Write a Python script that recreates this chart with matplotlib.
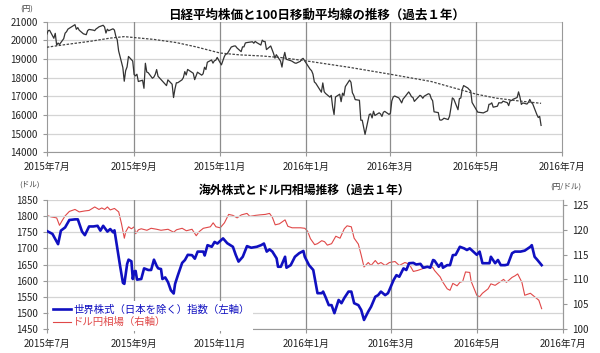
import matplotlib.pyplot as plt
import pandas as pd

plt.rcParams['font.family'] = ['Noto Sans CJK JP', 'DejaVu Sans']

# 日経平均株価 (円)
nk_dates = ['2015-07-01', '2015-07-02', '2015-07-03', '2015-07-06', '2015-07-07', '2015-07-08', '2015-07-09',
            '2015-07-10', '2015-07-13', '2015-07-14', '2015-07-15', '2015-07-16', '2015-07-17', '2015-07-21',
            '2015-07-22', '2015-07-23', '2015-07-24', '2015-07-27', '2015-07-28', '2015-07-29', '2015-07-30',
            '2015-07-31', '2015-08-03', '2015-08-04', '2015-08-05', '2015-08-06', '2015-08-07', '2015-08-10',
            '2015-08-11', '2015-08-12', '2015-08-13', '2015-08-14', '2015-08-17', '2015-08-18', '2015-08-19',
            '2015-08-20', '2015-08-21', '2015-08-24', '2015-08-25', '2015-08-26', '2015-08-27', '2015-08-28',
            '2015-08-31', '2015-09-01', '2015-09-02', '2015-09-03', '2015-09-04', '2015-09-07', '2015-09-08',
            '2015-09-09', '2015-09-10', '2015-09-11', '2015-09-14', '2015-09-15', '2015-09-16', '2015-09-17',
            '2015-09-18', '2015-09-24', '2015-09-25', '2015-09-28', '2015-09-29', '2015-09-30', '2015-10-01',
            '2015-10-02', '2015-10-05', '2015-10-06', '2015-10-07', '2015-10-08', '2015-10-09', '2015-10-13',
            '2015-10-14', '2015-10-15', '2015-10-16', '2015-10-19', '2015-10-20', '2015-10-21', '2015-10-22',
            '2015-10-23', '2015-10-26', '2015-10-27', '2015-10-28', '2015-10-29', '2015-10-30', '2015-11-02',
            '2015-11-04', '2015-11-05', '2015-11-06', '2015-11-09', '2015-11-10', '2015-11-11', '2015-11-12',
            '2015-11-13', '2015-11-16', '2015-11-17', '2015-11-18', '2015-11-19', '2015-11-20', '2015-11-24',
            '2015-11-25', '2015-11-26', '2015-11-27', '2015-11-30', '2015-12-01', '2015-12-02', '2015-12-03',
            '2015-12-04', '2015-12-07', '2015-12-08', '2015-12-09', '2015-12-10', '2015-12-11', '2015-12-14',
            '2015-12-15', '2015-12-16', '2015-12-17', '2015-12-18', '2015-12-21', '2015-12-22', '2015-12-24',
            '2015-12-25', '2015-12-28', '2015-12-29', '2015-12-30', '2016-01-04', '2016-01-05', '2016-01-06',
            '2016-01-07', '2016-01-08', '2016-01-12', '2016-01-13', '2016-01-14', '2016-01-15', '2016-01-18',
            '2016-01-19', '2016-01-20', '2016-01-21', '2016-01-22', '2016-01-25', '2016-01-26', '2016-01-27',
            '2016-01-28', '2016-01-29', '2016-02-01', '2016-02-02', '2016-02-03', '2016-02-04', '2016-02-05',
            '2016-02-08', '2016-02-09', '2016-02-10', '2016-02-12', '2016-02-15', '2016-02-16', '2016-02-17',
            '2016-02-18', '2016-02-19', '2016-02-22', '2016-02-23', '2016-02-24', '2016-02-25', '2016-02-26',
            '2016-02-29', '2016-03-01', '2016-03-02', '2016-03-03', '2016-03-04', '2016-03-07', '2016-03-08',
            '2016-03-09', '2016-03-10', '2016-03-11', '2016-03-14', '2016-03-15', '2016-03-16', '2016-03-17',
            '2016-03-18', '2016-03-22', '2016-03-23', '2016-03-24', '2016-03-25', '2016-03-28', '2016-03-29',
            '2016-03-30', '2016-03-31', '2016-04-01', '2016-04-04', '2016-04-05', '2016-04-06', '2016-04-07',
            '2016-04-08', '2016-04-11', '2016-04-12', '2016-04-13', '2016-04-14', '2016-04-15', '2016-04-18',
            '2016-04-19', '2016-04-20', '2016-04-21', '2016-04-22', '2016-04-25', '2016-04-26', '2016-04-27',
            '2016-04-28', '2016-05-02', '2016-05-06', '2016-05-09', '2016-05-10', '2016-05-11', '2016-05-12',
            '2016-05-13', '2016-05-16', '2016-05-17', '2016-05-18', '2016-05-19', '2016-05-20', '2016-05-23',
            '2016-05-24', '2016-05-25', '2016-05-26', '2016-05-27', '2016-05-30', '2016-05-31', '2016-06-01',
            '2016-06-02', '2016-06-03', '2016-06-06', '2016-06-07', '2016-06-08', '2016-06-09', '2016-06-10',
            '2016-06-13', '2016-06-14', '2016-06-15', '2016-06-16']
nk_vals = [20329, 20522, 20539, 20112, 20376, 19737, 19855,
           19780, 20089, 20385, 20463, 20600, 20650, 20841,
           20593, 20683, 20545, 20350, 20328, 20303, 20522,
           20585, 20548, 20520, 20614, 20664, 20724, 20808,
           20720, 20392, 20595, 20519, 20620, 20554, 20222,
           20033, 19435, 18540, 17806, 18376, 18574, 19136,
           18890, 18165, 18095, 18182, 17792, 17860, 17427,
           18770, 18299, 18264, 17965, 18026, 18171, 18432,
           18070, 17571, 17880, 17645, 16931, 17388, 17722,
           17725, 17880, 18005, 18322, 18141, 18438, 18234,
           17891, 18097, 18291, 18131, 18207, 18554, 18435,
           18825, 18947, 18777, 18903, 18935, 19083, 18683,
           19116, 19265, 19265, 19642, 19671, 19697, 19697,
           19596, 19393, 19649, 19649, 19859, 19879, 19924,
           19847, 19944, 19883, 19747, 20012, 19938, 19939,
           19504, 19698, 19492, 19301, 19046, 19230, 18883,
           18565, 19049, 19353, 18986, 18916, 18886, 18789,
           18769, 18873, 18982, 19033, 18450, 18374, 18191,
           17767, 17697, 17218, 17715, 17240, 17147, 16955,
           17048, 16416, 16017, 16958, 17110, 16708, 17163,
           17041, 17518, 17865, 17750, 17191, 17044, 16819,
           16785, 15713, 15713, 14952, 16022, 16054, 15836,
           16196, 15967, 16111, 16052, 15916, 16140, 16188,
           16026, 16085, 16747, 16960, 17014, 16911, 16783,
           16642, 16852, 16938, 17233, 17117, 16974, 16936,
           16724, 17049, 17000, 16892, 17002, 17134, 17103,
           16878, 16758, 16164, 16123, 15732, 15715, 15749,
           15821, 15751, 15929, 16381, 16911, 16848, 16275,
           16874, 16906, 17363, 17572, 17440, 17353, 17290,
           16666, 16147, 16106, 16216, 16565, 16579, 16646,
           16412, 16466, 16652, 16644, 16646, 16736, 16654,
           16498, 16757, 16772, 16834, 16931, 17234, 16955,
           16562, 16642, 16580, 16675, 16830, 16668, 16601,
           16019, 15859, 15919, 15434]

# 100日移動平均線
ma_dates = ['2015-07-01', '2015-07-15', '2015-08-01', '2015-08-15', '2015-08-25', '2015-09-01', '2015-09-15',
            '2015-10-01', '2015-10-15', '2015-11-01', '2015-11-15', '2015-12-01', '2015-12-15', '2016-01-01',
            '2016-02-01', '2016-03-01', '2016-03-30', '2016-05-01', '2016-05-15', '2016-06-01', '2016-06-16']
ma_vals = [19630, 19780, 19950, 20120, 20200, 20150, 20050,
           19880, 19650, 19320, 19220, 19160, 19070, 18900,
           18550, 18180, 17790, 17110, 16900, 16740, 16620]

# 世界株式（日本を除く）指数
wx_dates = ['2015-07-01', '2015-07-05', '2015-07-09', '2015-07-11', '2015-07-14', '2015-07-17', '2015-07-21',
            '2015-07-23', '2015-07-26', '2015-07-28', '2015-07-31', '2015-08-03', '2015-08-06', '2015-08-08',
            '2015-08-10', '2015-08-13', '2015-08-15', '2015-08-17', '2015-08-18', '2015-08-20', '2015-08-22',
            '2015-08-24', '2015-08-25', '2015-08-27', '2015-08-28', '2015-08-30', '2015-08-31', '2015-09-01',
            '2015-09-02', '2015-09-03', '2015-09-06', '2015-09-08', '2015-09-11', '2015-09-13', '2015-09-15',
            '2015-09-17', '2015-09-18', '2015-09-20', '2015-09-21', '2015-09-23', '2015-09-25', '2015-09-27',
            '2015-09-29', '2015-09-30', '2015-10-02', '2015-10-05', '2015-10-07', '2015-10-09', '2015-10-12',
            '2015-10-14', '2015-10-16', '2015-10-20', '2015-10-21', '2015-10-23', '2015-10-26', '2015-10-28',
            '2015-10-30', '2015-11-03', '2015-11-06', '2015-11-10', '2015-11-12', '2015-11-14', '2015-11-17',
            '2015-11-20', '2015-11-23', '2015-11-27', '2015-11-30', '2015-12-02', '2015-12-04', '2015-12-06',
            '2015-12-08', '2015-12-11', '2015-12-12', '2015-12-14', '2015-12-17', '2015-12-18', '2015-12-21',
            '2015-12-24', '2015-12-27', '2015-12-30', '2015-12-31', '2016-01-03', '2016-01-06', '2016-01-08',
            '2016-01-09', '2016-01-12', '2016-01-13', '2016-01-15', '2016-01-17', '2016-01-19', '2016-01-21',
            '2016-01-24', '2016-01-26', '2016-01-28', '2016-01-31', '2016-02-02', '2016-02-04', '2016-02-07',
            '2016-02-09', '2016-02-11', '2016-02-14', '2016-02-16', '2016-02-19', '2016-02-21', '2016-02-23',
            '2016-02-26', '2016-02-28', '2016-02-29', '2016-03-03', '2016-03-05', '2016-03-07', '2016-03-10',
            '2016-03-12', '2016-03-14', '2016-03-17', '2016-03-19', '2016-03-22', '2016-03-24', '2016-03-27',
            '2016-03-29', '2016-03-31', '2016-04-01', '2016-04-04', '2016-04-06', '2016-04-07', '2016-04-10',
            '2016-04-12', '2016-04-14', '2016-04-16', '2016-04-19', '2016-04-22', '2016-04-24', '2016-04-26',
            '2016-05-01', '2016-05-03', '2016-05-05', '2016-05-08', '2016-05-10', '2016-05-11', '2016-05-14',
            '2016-05-16', '2016-05-18', '2016-05-21', '2016-05-23', '2016-05-26', '2016-05-28', '2016-06-01',
            '2016-06-04', '2016-06-08', '2016-06-09', '2016-06-11', '2016-06-13', '2016-06-16']
wx_vals = [1754, 1745, 1713, 1755, 1765, 1788, 1790,
           1790, 1752, 1741, 1768, 1768, 1770, 1755,
           1770, 1752, 1760, 1750, 1756, 1700, 1645,
           1593, 1590, 1652, 1665, 1660, 1605, 1628,
           1630, 1603, 1605, 1638, 1633, 1633, 1665,
           1645, 1638, 1636, 1605, 1610, 1595, 1570,
           1560, 1590, 1617, 1655, 1664, 1680, 1679,
           1668, 1690, 1690, 1678, 1710, 1705, 1720,
           1715, 1731, 1716, 1705, 1680, 1659, 1674,
           1707, 1702, 1705, 1710, 1715, 1690, 1697,
           1690, 1669, 1643, 1643, 1674, 1640, 1648,
           1674, 1685, 1692, 1674, 1648, 1633, 1586,
           1561, 1561, 1566, 1546, 1524, 1524, 1499,
           1540, 1530, 1546, 1566, 1566, 1530, 1524,
           1509, 1478, 1504, 1519, 1550, 1555, 1566,
           1555, 1561, 1571, 1602, 1617, 1612, 1638,
           1633, 1654, 1655, 1650, 1652, 1640, 1643,
           1640, 1664, 1662, 1643, 1654, 1640, 1648,
           1648, 1679, 1680, 1705, 1700, 1695, 1700,
           1680, 1690, 1654, 1654, 1654, 1674, 1654,
           1664, 1648, 1648, 1650, 1685, 1690, 1690,
           1693, 1705, 1710, 1674, 1664, 1648]

# ドル円相場 (円/ドル)
fx_dates = ['2015-07-01', '2015-07-04', '2015-07-08', '2015-07-10', '2015-07-12', '2015-07-14', '2015-07-17',
            '2015-07-21', '2015-07-24', '2015-07-28', '2015-07-31', '2015-08-04', '2015-08-07', '2015-08-09',
            '2015-08-11', '2015-08-13', '2015-08-15', '2015-08-18', '2015-08-21', '2015-08-23', '2015-08-25',
            '2015-08-26', '2015-08-28', '2015-08-30', '2015-09-01', '2015-09-02', '2015-09-04', '2015-09-06',
            '2015-09-10', '2015-09-13', '2015-09-17', '2015-09-20', '2015-09-25', '2015-09-29', '2015-10-01',
            '2015-10-05', '2015-10-08', '2015-10-12', '2015-10-15', '2015-10-17', '2015-10-20', '2015-10-25',
            '2015-10-27', '2015-10-29', '2015-11-01', '2015-11-04', '2015-11-07', '2015-11-10', '2015-11-13',
            '2015-11-16', '2015-11-20', '2015-11-22', '2015-11-26', '2015-11-29', '2015-12-03', '2015-12-06',
            '2015-12-08', '2015-12-10', '2015-12-13', '2015-12-17', '2015-12-19', '2015-12-22', '2015-12-25',
            '2015-12-28', '2015-12-31', '2016-01-02', '2016-01-04', '2016-01-07', '2016-01-09', '2016-01-12',
            '2016-01-14', '2016-01-16', '2016-01-19', '2016-01-22', '2016-01-25', '2016-01-28', '2016-01-30',
            '2016-02-02', '2016-02-04', '2016-02-07', '2016-02-09', '2016-02-11', '2016-02-14', '2016-02-16',
            '2016-02-19', '2016-02-21', '2016-02-23', '2016-02-26', '2016-02-29', '2016-03-04', '2016-03-07',
            '2016-03-11', '2016-03-14', '2016-03-17', '2016-03-20', '2016-03-24', '2016-03-27', '2016-03-29',
            '2016-03-31', '2016-04-01', '2016-04-05', '2016-04-07', '2016-04-10', '2016-04-12', '2016-04-14',
            '2016-04-17', '2016-04-19', '2016-04-21', '2016-04-23', '2016-04-26', '2016-04-27', '2016-05-01',
            '2016-05-03', '2016-05-05', '2016-05-09', '2016-05-11', '2016-05-14', '2016-05-17', '2016-05-20',
            '2016-05-22', '2016-05-26', '2016-05-28', '2016-05-30', '2016-06-02', '2016-06-04', '2016-06-08',
            '2016-06-11', '2016-06-14', '2016-06-16']
fx_vals = [122.9, 122.6, 122.4, 120.9, 121.9, 122.8, 123.7,
           124.1, 123.6, 123.8, 123.9, 124.6, 124.1, 124.4,
           124.1, 124.6, 124.0, 124.3, 123.6, 121.2, 118.3,
           119.6, 120.6, 120.2, 120.6, 119.2, 120.0, 120.2,
           119.9, 120.3, 120.1, 119.9, 120.1, 119.5, 120.0,
           120.3, 119.8, 120.1, 118.8, 119.6, 120.3, 120.6,
           121.4, 120.6, 120.4, 121.4, 123.1, 122.9, 122.4,
           123.0, 123.3, 122.7, 122.9, 123.0, 123.1, 123.3,
           122.5, 121.0, 121.2, 122.0, 120.7, 120.4, 120.4,
           120.4, 120.3, 119.7, 118.2, 117.0, 117.2, 117.8,
           117.6, 116.9, 117.2, 118.7, 118.3, 120.2, 120.8,
           120.6, 118.3, 117.1, 114.9, 112.5, 113.4, 112.8,
           113.8, 113.1, 113.4, 112.8, 113.4, 113.6, 112.8,
           113.4, 113.1, 111.6, 111.8, 112.2, 112.5, 112.8,
           112.3, 111.8, 110.5, 109.4, 108.1, 107.8, 109.2,
           108.7, 109.4, 109.6, 111.5, 111.4, 109.6, 106.8,
           106.5, 107.2, 108.1, 109.1, 108.8, 109.4, 110.0,
           109.4, 110.4, 110.7, 111.1, 109.4, 106.8, 107.2,
           106.5, 105.8, 104.1]

month_ticks = ['2015-07-01', '2015-09-01', '2015-11-01', '2016-01-01', '2016-03-01', '2016-05-01', '2016-07-01']
month_labels = ['2015年7月', '2015年9月', '2015年11月', '2016年1月', '2016年3月', '2016年5月', '2016年7月']

nk_t = pd.to_datetime(nk_dates)
ma_t = pd.to_datetime(ma_dates)
wx_t = pd.to_datetime(wx_dates)
fx_t = pd.to_datetime(fx_dates)
ticks = pd.to_datetime(month_ticks)

fig = plt.figure(figsize=(6, 3.53), dpi=100)


def style_axes(ax):
    ax.set_xlim(ticks[0], ticks[-1])
    ax.set_xticks(ticks)
    ax.set_xticklabels(month_labels)
    for t in ticks[1:-1]:
        ax.axvline(t, color='#8c8c8c', lw=0.9, zorder=1)
    ax.grid(axis='y', color='#d4d4d4', lw=0.9, zorder=0)
    ax.set_axisbelow(True)
    for s in ['top']:
        ax.spines[s].set_visible(False)
    for s in ['left', 'bottom', 'right']:
        ax.spines[s].set_color('#999999')
    ax.tick_params(labelsize=7, colors='#999999', labelcolor='#222222', length=3, width=0.8)
    ax.tick_params(axis='x', pad=4)


# top: 日経平均
ax1 = fig.add_axes([0.078, 0.569, 0.859, 0.3695])
style_axes(ax1)
ax1.plot(nk_t, nk_vals, color='#333333', lw=0.9, zorder=3)
ax1.plot(ma_t, ma_vals, color='#444444', lw=0.9, ls=(0, (2, 1.2)), zorder=3)
ax1.set_ylim(14000, 21000)
ax1.set_yticks(range(14000, 21001, 1000))
ax1.tick_params(axis='y', right=False)
fig.text(316 / 600, 1 - 15 / 353, '日経平均株価と100日移動平均線の推移（過去１年）',
         ha='center', va='center', fontsize=9, fontweight='bold')
fig.text(27 / 600, 1 - 10 / 353, '(円)', ha='center', va='center', fontsize=5.5, color='#444444')

# bottom: 海外株式とドル円
ax2 = fig.add_axes([0.078, 0.068, 0.860, 0.3654])
style_axes(ax2)
ax2.set_ylim(1450, 1850)
ax2.set_yticks(range(1450, 1851, 50))
ax3 = ax2.twinx()
ax3.set_ylim(100, 126)
ax3.set_yticks(range(100, 126, 5))
for s in ['top', 'left', 'bottom']:
    ax3.spines[s].set_visible(False)
ax3.spines['right'].set_color('#999999')
ax3.tick_params(labelsize=7, colors='#999999', labelcolor='#222222', length=3, width=0.8)

l1, = ax3.plot([], [], color='#1010c0', lw=2)
ax3.plot(fx_t, fx_vals, color='#e04848', lw=0.8, zorder=3)
ax2.set_zorder(ax3.get_zorder() + 1)
ax2.patch.set_visible(False)
line_w, = ax2.plot(wx_t, wx_vals, color='#1010c0', lw=1.9, zorder=4)
line_fx, = ax2.plot([], [], color='#e04848', lw=0.8)

leg = ax2.legend([line_w, line_fx], ['世界株式（日本を除く）指数（左軸）', 'ドル円相場（右軸）'],
                 loc='lower left', bbox_to_anchor=(0.005, -0.012), borderaxespad=0,
                 fontsize=7.5, frameon=True, facecolor='white', edgecolor='none', framealpha=1,
                 fancybox=False, handlelength=1.8, handletextpad=0.2, labelspacing=0.25,
                 borderpad=0.3, labelcolor='linecolor')
leg.set_zorder(10)

fig.text(304 / 600, 1 - 190 / 353, '海外株式とドル円相場推移（過去１年）',
         ha='center', va='center', fontsize=8.5, fontweight='bold')
fig.text(30 / 600, 1 - 185 / 353, '(ドル)', ha='center', va='center', fontsize=5.5, color='#444444')
fig.text(566 / 600, 1 - 187 / 353, '(円/ドル)', ha='center', va='center', fontsize=5.5, color='#444444')

fig.savefig('out.png', dpi=100)
